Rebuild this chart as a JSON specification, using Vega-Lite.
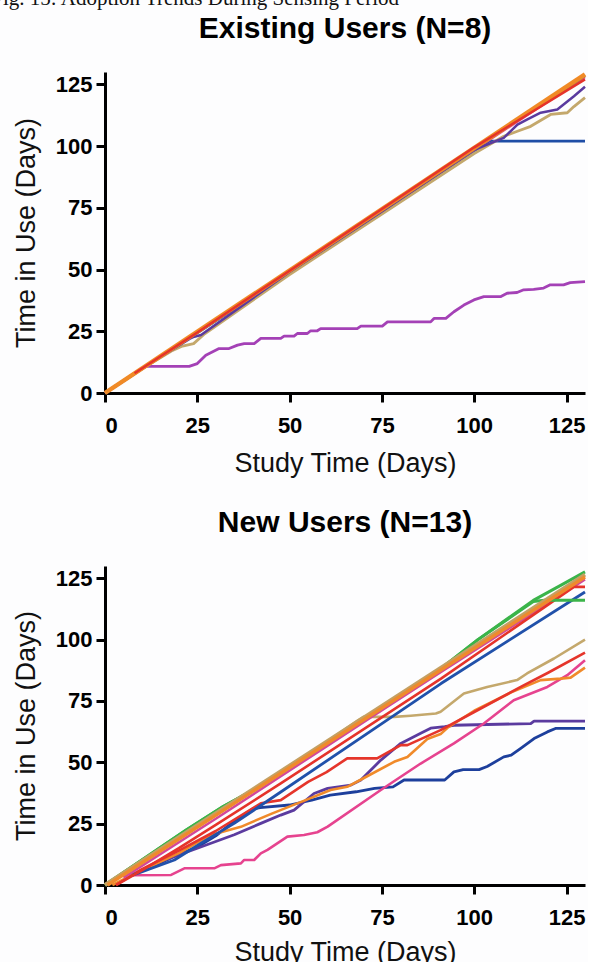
{
  "$schema": "https://vega.github.io/schema/vega-lite/v6.json",
  "background": "#fdfdfe",
  "padding": {"left": -9, "top": -12, "right": 0, "bottom": 0},
  "title": {"text": "Fig. 15: Adoption Trends During Sensing Period", "anchor": "start", "frame": "bounds", "font": "Liberation Serif", "fontSize": 21, "fontWeight": "normal", "color": "#111", "dx": -21, "offset": 5},
  "config": {
    "view": {"stroke": null},
    "axis": {"grid": false, "domainColor": "black", "domainWidth": 3, "tickColor": "black", "tickWidth": 3, "tickSize": 9, "labelFont": "Liberation Sans", "labelFontSize": 22, "labelFontWeight": "bold", "labelColor": "black", "titleFont": "Liberation Sans", "titleFontSize": 27, "titleFontWeight": "normal", "titleColor": "#111"},
    "axisX": {"labelPadding": 13, "titlePadding": 14},
    "axisY": {"labelPadding": 4, "titlePadding": 15},
    "title": {"font": "Liberation Sans", "fontSize": 30, "fontWeight": "bold", "color": "black"}
  },
  "resolve": {"scale": {"color": "independent", "strokeWidth": "independent"}},
  "datasets": {
    "top": [
      {"s": "magenta", "x": 0, "y": 0}, {"s": "magenta", "x": 11, "y": 10.8}, {"s": "magenta", "x": 22.8, "y": 10.8}, {"s": "magenta", "x": 25, "y": 11.9}, {"s": "magenta", "x": 27.3, "y": 15.3}, {"s": "magenta", "x": 30.9, "y": 18}, {"s": "magenta", "x": 33.6, "y": 18}, {"s": "magenta", "x": 35.9, "y": 19.4}, {"s": "magenta", "x": 37.7, "y": 20}, {"s": "magenta", "x": 40.4, "y": 20}, {"s": "magenta", "x": 42.2, "y": 22.1}, {"s": "magenta", "x": 47.6, "y": 22.1}, {"s": "magenta", "x": 48.5, "y": 23}, {"s": "magenta", "x": 51.2, "y": 23}, {"s": "magenta", "x": 52.1, "y": 24.1}, {"s": "magenta", "x": 54.8, "y": 24.1}, {"s": "magenta", "x": 55.7, "y": 25.2}, {"s": "magenta", "x": 57.5, "y": 25.2}, {"s": "magenta", "x": 58.4, "y": 26.1}, {"s": "magenta", "x": 68.3, "y": 26.1}, {"s": "magenta", "x": 69.3, "y": 27.1}, {"s": "magenta", "x": 75.1, "y": 27.1}, {"s": "magenta", "x": 76.5, "y": 28.8}, {"s": "magenta", "x": 88.2, "y": 28.8}, {"s": "magenta", "x": 89.1, "y": 30.2}, {"s": "magenta", "x": 92.3, "y": 30.2}, {"s": "magenta", "x": 94.5, "y": 32.9}, {"s": "magenta", "x": 97.2, "y": 35.6}, {"s": "magenta", "x": 99.9, "y": 37.7}, {"s": "magenta", "x": 102.6, "y": 39}, {"s": "magenta", "x": 107.1, "y": 39}, {"s": "magenta", "x": 108.9, "y": 40.4}, {"s": "magenta", "x": 111.6, "y": 40.7}, {"s": "magenta", "x": 113.4, "y": 41.8}, {"s": "magenta", "x": 116.1, "y": 42}, {"s": "magenta", "x": 118.8, "y": 42.5}, {"s": "magenta", "x": 120.6, "y": 43.8}, {"s": "magenta", "x": 124.2, "y": 43.8}, {"s": "magenta", "x": 126, "y": 44.7}, {"s": "magenta", "x": 130, "y": 45.1},
      {"s": "blue", "x": 0, "y": 0}, {"s": "blue", "x": 60, "y": 58.5}, {"s": "blue", "x": 104, "y": 102}, {"s": "blue", "x": 130, "y": 102},
      {"s": "pink", "x": 0, "y": 0}, {"s": "pink", "x": 130, "y": 128},
      {"s": "green", "x": 5, "y": 5}, {"s": "green", "x": 130, "y": 128.5},
      {"s": "tan", "x": 0, "y": 0}, {"s": "tan", "x": 8, "y": 8}, {"s": "tan", "x": 18, "y": 17}, {"s": "tan", "x": 21, "y": 19}, {"s": "tan", "x": 24, "y": 20}, {"s": "tan", "x": 27, "y": 24}, {"s": "tan", "x": 50, "y": 48}, {"s": "tan", "x": 75, "y": 72.5}, {"s": "tan", "x": 100, "y": 97}, {"s": "tan", "x": 108, "y": 104}, {"s": "tan", "x": 111.7, "y": 106}, {"s": "tan", "x": 115.3, "y": 108}, {"s": "tan", "x": 120.7, "y": 112.8}, {"s": "tan", "x": 125.2, "y": 113.5}, {"s": "tan", "x": 127, "y": 116}, {"s": "tan", "x": 130, "y": 119.6},
      {"s": "purple", "x": 8, "y": 8}, {"s": "purple", "x": 23, "y": 22}, {"s": "purple", "x": 24.2, "y": 22.8}, {"s": "purple", "x": 26, "y": 23.5}, {"s": "purple", "x": 50, "y": 49}, {"s": "purple", "x": 75, "y": 73.5}, {"s": "purple", "x": 76, "y": 74.5}, {"s": "purple", "x": 100, "y": 98.5}, {"s": "purple", "x": 108, "y": 103.3}, {"s": "purple", "x": 111.7, "y": 108.7}, {"s": "purple", "x": 114.4, "y": 110.8}, {"s": "purple", "x": 118, "y": 113.5}, {"s": "purple", "x": 122.5, "y": 114.8}, {"s": "purple", "x": 127, "y": 120.2}, {"s": "purple", "x": 130, "y": 124},
      {"s": "orange", "x": 0, "y": 0}, {"s": "orange", "x": 130, "y": 129},
      {"s": "red", "x": 8, "y": 8}, {"s": "red", "x": 25, "y": 24.5}, {"s": "red", "x": 50, "y": 49.5}, {"s": "red", "x": 75, "y": 74.5}, {"s": "red", "x": 100, "y": 99.5}, {"s": "red", "x": 130, "y": 127}
    ],
    "bottom": [
      {"s": "darkblue", "x": 7, "y": 4}, {"s": "darkblue", "x": 15, "y": 9}, {"s": "darkblue", "x": 20, "y": 12.5}, {"s": "darkblue", "x": 25, "y": 15.5}, {"s": "darkblue", "x": 30, "y": 20}, {"s": "darkblue", "x": 35, "y": 26}, {"s": "darkblue", "x": 40, "y": 31}, {"s": "darkblue", "x": 42, "y": 31.5}, {"s": "darkblue", "x": 50, "y": 32.6}, {"s": "darkblue", "x": 56, "y": 34.6}, {"s": "darkblue", "x": 61, "y": 36.6}, {"s": "darkblue", "x": 68, "y": 38}, {"s": "darkblue", "x": 73, "y": 39.4}, {"s": "darkblue", "x": 78, "y": 40}, {"s": "darkblue", "x": 81, "y": 42.8}, {"s": "darkblue", "x": 92, "y": 42.8}, {"s": "darkblue", "x": 94.5, "y": 46.1}, {"s": "darkblue", "x": 97, "y": 47}, {"s": "darkblue", "x": 101.3, "y": 47}, {"s": "darkblue", "x": 103.5, "y": 48.3}, {"s": "darkblue", "x": 108, "y": 52.2}, {"s": "darkblue", "x": 110, "y": 52.9}, {"s": "darkblue", "x": 112.6, "y": 55.7}, {"s": "darkblue", "x": 116.2, "y": 59.7}, {"s": "darkblue", "x": 119.8, "y": 62.4}, {"s": "darkblue", "x": 122, "y": 63.8}, {"s": "darkblue", "x": 130, "y": 63.8},
      {"s": "purple", "x": 7, "y": 4}, {"s": "purple", "x": 15, "y": 9.5}, {"s": "purple", "x": 25, "y": 15}, {"s": "purple", "x": 35, "y": 20.5}, {"s": "purple", "x": 42.2, "y": 25.1}, {"s": "purple", "x": 47.6, "y": 28.5}, {"s": "purple", "x": 51.2, "y": 30.5}, {"s": "purple", "x": 56.6, "y": 37.3}, {"s": "purple", "x": 60.3, "y": 39.4}, {"s": "purple", "x": 66.6, "y": 40.7}, {"s": "purple", "x": 69.3, "y": 42.8}, {"s": "purple", "x": 74.7, "y": 50.9}, {"s": "purple", "x": 80.1, "y": 57.7}, {"s": "purple", "x": 85.5, "y": 61.8}, {"s": "purple", "x": 88.2, "y": 63.9}, {"s": "purple", "x": 92, "y": 64.5}, {"s": "purple", "x": 94.5, "y": 65.1}, {"s": "purple", "x": 115.3, "y": 65.8}, {"s": "purple", "x": 116.2, "y": 66.8}, {"s": "purple", "x": 130, "y": 66.8},
      {"s": "pink", "x": 7, "y": 4}, {"s": "pink", "x": 17.9, "y": 4.1}, {"s": "pink", "x": 21.5, "y": 6.8}, {"s": "pink", "x": 29.6, "y": 6.8}, {"s": "pink", "x": 31.4, "y": 8.1}, {"s": "pink", "x": 36.8, "y": 8.8}, {"s": "pink", "x": 37.7, "y": 10.2}, {"s": "pink", "x": 40.4, "y": 10.2}, {"s": "pink", "x": 42.2, "y": 12.9}, {"s": "pink", "x": 44, "y": 14.3}, {"s": "pink", "x": 49.4, "y": 19.7}, {"s": "pink", "x": 53.9, "y": 20.4}, {"s": "pink", "x": 57.5, "y": 21.5}, {"s": "pink", "x": 60.3, "y": 23.8}, {"s": "pink", "x": 74.7, "y": 38.7}, {"s": "pink", "x": 85.5, "y": 49.5}, {"s": "pink", "x": 94.5, "y": 57.7}, {"s": "pink", "x": 102.6, "y": 65.8}, {"s": "pink", "x": 110.7, "y": 75.3}, {"s": "pink", "x": 119.8, "y": 80.7}, {"s": "pink", "x": 125.2, "y": 85.5}, {"s": "pink", "x": 130, "y": 91.6},
      {"s": "orange2", "x": 2, "y": 0}, {"s": "orange2", "x": 10, "y": 6}, {"s": "orange2", "x": 20, "y": 13}, {"s": "orange2", "x": 28.7, "y": 20.4}, {"s": "orange2", "x": 36.8, "y": 23.7}, {"s": "orange2", "x": 45, "y": 29}, {"s": "orange2", "x": 55, "y": 35}, {"s": "orange2", "x": 61.1, "y": 38.7}, {"s": "orange2", "x": 65.6, "y": 40}, {"s": "orange2", "x": 70, "y": 43.5}, {"s": "orange2", "x": 78.3, "y": 50.2}, {"s": "orange2", "x": 81.9, "y": 52.2}, {"s": "orange2", "x": 87.3, "y": 59.5}, {"s": "orange2", "x": 90.9, "y": 61.5}, {"s": "orange2", "x": 92.7, "y": 64}, {"s": "orange2", "x": 100, "y": 71}, {"s": "orange2", "x": 110, "y": 78.5}, {"s": "orange2", "x": 118, "y": 83.5}, {"s": "orange2", "x": 123.4, "y": 84.1}, {"s": "orange2", "x": 126.1, "y": 84.5}, {"s": "orange2", "x": 130, "y": 88.6},
      {"s": "red2", "x": 3, "y": 0}, {"s": "red2", "x": 10, "y": 6.5}, {"s": "red2", "x": 20, "y": 14}, {"s": "red2", "x": 30, "y": 22}, {"s": "red2", "x": 42.2, "y": 33.3}, {"s": "red2", "x": 47.6, "y": 34.6}, {"s": "red2", "x": 55, "y": 42}, {"s": "red2", "x": 60, "y": 46}, {"s": "red2", "x": 65.6, "y": 51.6}, {"s": "red2", "x": 73.7, "y": 51.6}, {"s": "red2", "x": 80.1, "y": 57}, {"s": "red2", "x": 81.9, "y": 57}, {"s": "red2", "x": 90.9, "y": 63.1}, {"s": "red2", "x": 100, "y": 70.5}, {"s": "red2", "x": 112.6, "y": 80.7}, {"s": "red2", "x": 120, "y": 86.5}, {"s": "red2", "x": 130, "y": 94.7},
      {"s": "tan2", "x": 0, "y": 0}, {"s": "tan2", "x": 30, "y": 28.5}, {"s": "tan2", "x": 50, "y": 48}, {"s": "tan2", "x": 68.4, "y": 67}, {"s": "tan2", "x": 70, "y": 68.5}, {"s": "tan2", "x": 78.3, "y": 68.5}, {"s": "tan2", "x": 82.8, "y": 69}, {"s": "tan2", "x": 89.6, "y": 69.9}, {"s": "tan2", "x": 90.9, "y": 70.6}, {"s": "tan2", "x": 97.2, "y": 78}, {"s": "tan2", "x": 103.5, "y": 80.7}, {"s": "tan2", "x": 111.6, "y": 83.5}, {"s": "tan2", "x": 114.3, "y": 86.2}, {"s": "tan2", "x": 121.6, "y": 92.3}, {"s": "tan2", "x": 130, "y": 100},
      {"s": "blue", "x": 7.5, "y": 4}, {"s": "blue", "x": 18.8, "y": 10.2}, {"s": "blue", "x": 26, "y": 17}, {"s": "blue", "x": 35, "y": 25.1}, {"s": "blue", "x": 47.6, "y": 37.9}, {"s": "blue", "x": 91, "y": 82.1}, {"s": "blue", "x": 130, "y": 119.4},
      {"s": "magentatop", "x": 5, "y": 3}, {"s": "magentatop", "x": 30, "y": 27}, {"s": "magentatop", "x": 60, "y": 56.5}, {"s": "magentatop", "x": 72, "y": 68.3}, {"s": "magentatop", "x": 91, "y": 86.8}, {"s": "magentatop", "x": 130, "y": 124.5},
      {"s": "redtop", "x": 3, "y": 0}, {"s": "redtop", "x": 10, "y": 6}, {"s": "redtop", "x": 20, "y": 15}, {"s": "redtop", "x": 30, "y": 24.5}, {"s": "redtop", "x": 47.6, "y": 41.4}, {"s": "redtop", "x": 91, "y": 84.1}, {"s": "redtop", "x": 127, "y": 121.5}, {"s": "redtop", "x": 130, "y": 121.5},
      {"s": "green2", "x": 0, "y": 0}, {"s": "green2", "x": 22, "y": 22.4}, {"s": "green2", "x": 32, "y": 32}, {"s": "green2", "x": 40, "y": 38.6}, {"s": "green2", "x": 70, "y": 67.6}, {"s": "green2", "x": 90, "y": 87}, {"s": "green2", "x": 101, "y": 100}, {"s": "green2", "x": 116, "y": 115.5}, {"s": "green2", "x": 119, "y": 116}, {"s": "green2", "x": 130, "y": 116},
      {"s": "green1", "x": 0, "y": 0}, {"s": "green1", "x": 22, "y": 22.4}, {"s": "green1", "x": 32, "y": 32}, {"s": "green1", "x": 40, "y": 38.6}, {"s": "green1", "x": 70, "y": 67.6}, {"s": "green1", "x": 90, "y": 87}, {"s": "green1", "x": 101, "y": 100}, {"s": "green1", "x": 116, "y": 116}, {"s": "green1", "x": 123.4, "y": 122.1}, {"s": "green1", "x": 130, "y": 127.6},
      {"s": "tantop", "x": 0, "y": 0}, {"s": "tantop", "x": 130, "y": 126.5},
      {"s": "orangetop", "x": 0.7, "y": 0}, {"s": "orangetop", "x": 130, "y": 125.5}
    ]
  },
  "vconcat": [
    {
      "title": {"text": "Existing Users (N=8)", "offset": 28},
      "width": 480,
      "height": 321,
      "data": {"name": "top"},
      "mark": {"type": "line", "interpolate": "linear", "strokeCap": "butt", "strokeJoin": "round"},
      "encoding": {
        "x": {"field": "x", "type": "quantitative", "scale": {"domain": [0, 130], "nice": false}, "axis": {"values": [0, 25, 50, 75, 100, 125], "title": "Study Time (Days)"}},
        "y": {"field": "y", "type": "quantitative", "scale": {"domain": [0, 130], "nice": false}, "axis": {"values": [0, 25, 50, 75, 100, 125], "title": "Time in Use (Days)"}},
        "color": {"field": "s", "type": "nominal", "legend": null, "scale": {"domain": ["magenta", "blue", "pink", "green", "tan", "purple", "orange", "red"], "range": ["#a441b6", "#1f4ea6", "#e6438f", "#3bb44a", "#c4a86c", "#5a3a9f", "#f08a26", "#e5332a"]}},
        "strokeWidth": {"field": "s", "type": "nominal", "legend": null, "scale": {"type": "ordinal", "domain": ["magenta", "blue", "pink", "green", "tan", "purple", "orange", "red"], "range": [2.8, 2.8, 2.5, 2.5, 2.8, 2.5, 4.5, 2.5]}}
      }
    },
    {
      "title": {"text": "New Users (N=13)", "offset": 28},
      "width": 480,
      "height": 319,
      "data": {"name": "bottom"},
      "mark": {"type": "line", "interpolate": "linear", "strokeCap": "butt", "strokeJoin": "round"},
      "encoding": {
        "x": {"field": "x", "type": "quantitative", "scale": {"domain": [0, 130], "nice": false}, "axis": {"values": [0, 25, 50, 75, 100, 125], "title": "Study Time (Days)", "titlePadding": 11}},
        "y": {"field": "y", "type": "quantitative", "scale": {"domain": [0, 130], "nice": false}, "axis": {"values": [0, 25, 50, 75, 100, 125], "title": "Time in Use (Days)"}},
        "color": {"field": "s", "type": "nominal", "legend": null, "scale": {"domain": ["darkblue", "purple", "pink", "orange2", "red2", "tan2", "blue", "magentatop", "redtop", "green2", "green1", "tantop", "orangetop"], "range": ["#1d3f9c", "#5b3b9f", "#e6438f", "#f08a2a", "#e5352b", "#c4a86c", "#2151aa", "#d2479b", "#e5332a", "#3bb44a", "#3bb44a", "#c4a062", "#ef8a2c"]}},
        "strokeWidth": {"field": "s", "type": "nominal", "legend": null, "scale": {"type": "ordinal", "domain": ["darkblue", "purple", "pink", "orange2", "red2", "tan2", "blue", "magentatop", "redtop", "green2", "green1", "tantop", "orangetop"], "range": [2.8, 2.8, 2.6, 2.6, 2.6, 2.6, 2.8, 2.5, 2.6, 3, 3, 4, 3.5]}}
      }
    }
  ],
  "spacing": 32
}
